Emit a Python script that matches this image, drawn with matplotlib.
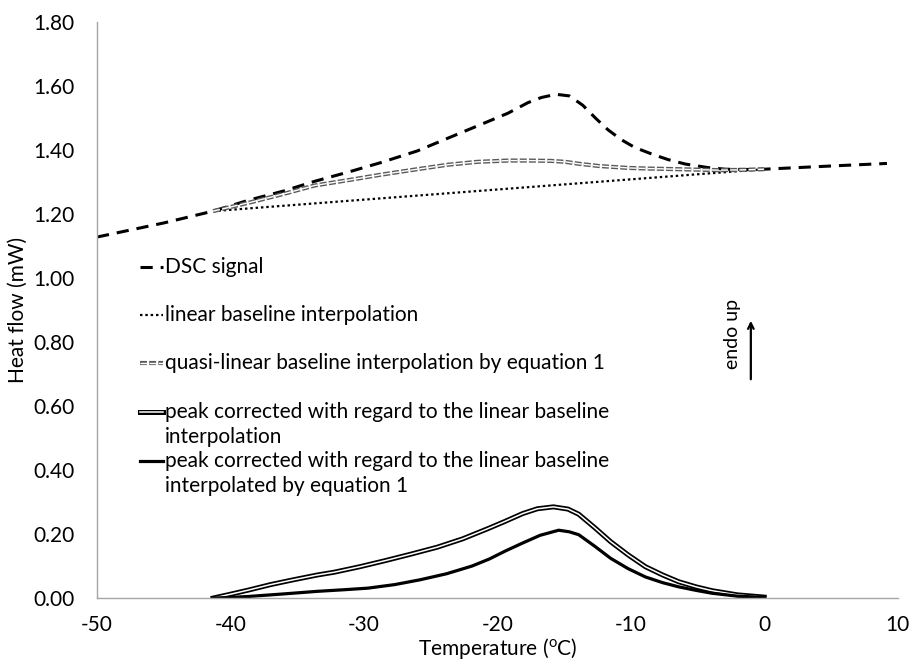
import matplotlib
matplotlib.use('Agg')
import matplotlib.pyplot as plt
import matplotlib.patheffects as pe
from matplotlib.ticker import FormatStrFormatter

plt.rcParams['font.family'] = ['Lato', 'DejaVu Sans']
plt.rcParams['axes.unicode_minus'] = False

# DSC signal (mW) against temperature (oC)
dsc_t = [-50, -45, -41.3, -38.65, -36, -33.7, -31, -28.7, -26, -23.7, -21.5, -19.2,
         -17.7, -16.7, -15.6, -14.6, -13.6, -12.6, -11.7, -10.7, -9.7, -8.4,
         -7.2, -5.9, -4.2, -2.9, -1.4, 0, 5, 9.2]
dsc_hf = [1.128, 1.172, 1.209, 1.243, 1.272, 1.302, 1.333, 1.361, 1.397, 1.437, 1.475, 1.515,
          1.548, 1.564, 1.574, 1.569, 1.540, 1.498, 1.463, 1.432, 1.408, 1.387,
          1.370, 1.356, 1.345, 1.340, 1.339, 1.340, 1.350, 1.358]

# linear baseline between the onset and the end of the peak
lin_t = [-41.3, 0]
lin_hf = [1.209, 1.340]

# quasi-linear baseline (equation 1)
quasi_t = [-41.3, -38.65, -36, -33.7, -31, -28.7, -26, -23.7, -21.5, -19.2, -17.7, -16.0,
           -14.9, -13.9, -12.4, -10.2, -8.7, -6.4, -3.4, -1.5, 0]
quasi_hf = [1.209, 1.235, 1.263, 1.289, 1.307, 1.323, 1.340, 1.354, 1.363, 1.367, 1.367, 1.366,
            1.363, 1.357, 1.350, 1.344, 1.342, 1.340, 1.337, 1.338, 1.340]

# peak after subtracting the linear baseline
peak_lin_t = [-41.3, -40, -38.65, -37, -35.3, -33.5, -32.2, -30.3, -28.4, -26.5, -24.5, -22.6,
              -20.7, -19.4, -18.1, -17.0, -15.8, -14.7, -13.9, -12.7, -11.5, -10.2, -8.9,
              -7.6, -6.4, -5.1, -3.9, -2.0, 0]
peak_lin_hf = [0, 0.012, 0.025, 0.042, 0.057, 0.072, 0.081, 0.098, 0.117, 0.137, 0.159, 0.185,
               0.217, 0.240, 0.264, 0.279, 0.285, 0.278, 0.262, 0.220, 0.176, 0.135, 0.098,
               0.072, 0.051, 0.035, 0.023, 0.010, 0.003]

# peak after subtracting the quasi-linear baseline
peak_quasi_t = [-41.3, -40, -38.65, -36, -33.5, -31.5, -29.7, -27.7, -25.8, -23.8, -21.9, -20.6,
                -19.4, -18.1, -16.8, -15.4, -14.6, -13.9, -12.7, -11.5, -10.2, -8.9, -7.6,
                -6.4, -5.1, -3.9, -2.0, 0]
peak_quasi_hf = [0, 0.002, 0.005, 0.013, 0.021, 0.026, 0.031, 0.042, 0.057, 0.076, 0.100, 0.122,
                 0.147, 0.172, 0.196, 0.212, 0.207, 0.198, 0.162, 0.124, 0.092, 0.066, 0.048,
                 0.035, 0.024, 0.015, 0.006, 0.002]

labels = [
    ['DSC signal'],
    ['linear baseline interpolation'],
    ['quasi-linear baseline interpolation by equation 1'],
    ['peak corrected with regard to the linear baseline', 'interpolation'],
    ['peak corrected with regard to the linear baseline', 'interpolated by equation 1'],
]

styles = [
    dict(color='black', lw=2.2, linestyle=(0, (4, 2.6))),
    dict(color='black', lw=1.6, linestyle=(0, (1.1, 1.3))),
    dict(color='white', lw=1.0, linestyle=(0, (5, 1.6)),
         path_effects=[pe.Stroke(linewidth=3.0, foreground='#5a5a5a'), pe.Normal()]),
    dict(color='white', lw=1.1,
         path_effects=[pe.Stroke(linewidth=3.6, foreground='black'), pe.Normal()]),
    dict(color='black', lw=2.3),
]

fig = plt.figure(figsize=(9.15, 6.66), dpi=100)
ax = fig.add_axes([0.106, 0.102, 0.875, 0.865])

series = [(dsc_t, dsc_hf), (lin_t, lin_hf), (quasi_t, quasi_hf),
          (peak_lin_t, peak_lin_hf), (peak_quasi_t, peak_quasi_hf)]
for (t, hf), st in zip(series, styles):
    ax.plot(t, hf, solid_joinstyle='round', **st)

# legend drawn inside the plot area, entries aligned on their first line
legend_y = [0.574, 0.491, 0.408, 0.323, 0.238]
line_step = 0.044
for lab, st, y in zip(labels, styles, legend_y):
    ax.plot([0.054, 0.082], [y, y], transform=ax.transAxes, **st)
    for i, txt in enumerate(lab):
        ax.text(0.085, y - i * line_step, txt, transform=ax.transAxes,
                fontsize=15, va='center', ha='left')

# endotherm direction marker
ax.annotate('', xy=(-1.0, 0.875), xytext=(-1.0, 0.675),
            arrowprops=dict(arrowstyle='->', color='black', lw=1.6))
ax.text(-2.4, 0.825, 'endo up', rotation=90, fontsize=14, va='center', ha='center')

ax.set_xlim(-50, 10)
ax.set_ylim(0, 1.8)
ax.set_xticks(range(-50, 11, 10))
ax.set_yticks([i * 0.2 for i in range(10)])
ax.yaxis.set_major_formatter(FormatStrFormatter('%.2f'))
ax.tick_params(length=0, labelsize=15)
ax.tick_params(axis='y', pad=16)
ax.tick_params(axis='x', pad=12)
for side in ['top', 'right']:
    ax.spines[side].set_visible(False)
for side in ['left', 'bottom']:
    ax.spines[side].set_color('#a6a6a6')
    ax.spines[side].set_linewidth(1.0)

ax.set_xlabel(r'Temperature ($\mathregular{^o}$C)', fontsize=15, labelpad=1)
ax.set_ylabel('Heat flow (mW)', fontsize=15, labelpad=4)

fig.savefig('out.png', dpi=100)
